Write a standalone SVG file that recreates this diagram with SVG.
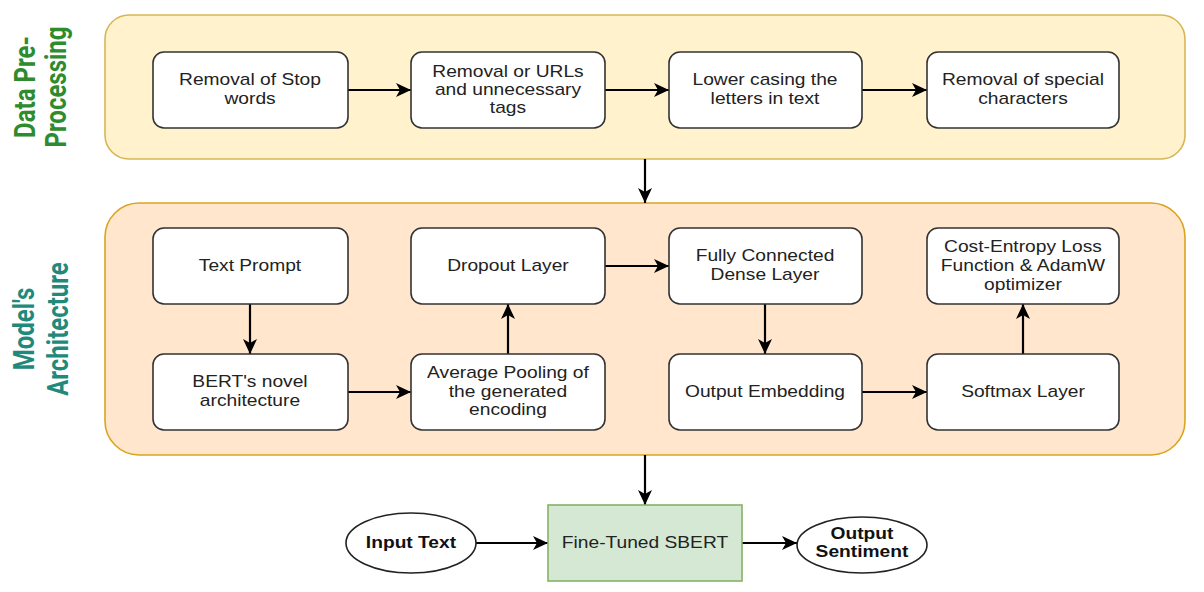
<svg xmlns="http://www.w3.org/2000/svg" width="1204" height="592" viewBox="0 0 1204 592">
<style>
.box{fill:#ffffff;stroke:#333333;stroke-width:1.6}
.t{font-family:"Liberation Sans",Arial,sans-serif;font-size:16px;fill:#222222;text-anchor:middle;transform-box:fill-box;transform-origin:center;transform:scaleX(1.2)}
.b{font-weight:bold;fill:#111111}
.title{font-family:Roboto,"Liberation Sans",sans-serif;font-size:24px;font-weight:bold;text-anchor:middle}
.conn{fill:none;stroke:#000000;stroke-width:2.2}
</style>
<defs>
<marker id="arr" markerUnits="userSpaceOnUse" viewBox="0 0 15 14" markerWidth="15" markerHeight="14" refX="15" refY="7" orient="auto">
<path d="M0,0 L15,7 L0,14 L4,7 Z" fill="#000000"/>
</marker>
</defs>
<rect width="1204" height="592" fill="#ffffff"/>
<g id="container-preprocessing">
<rect x="105" y="15" width="1080" height="144" rx="24" fill="#fff2cc" stroke="#d6b656" stroke-width="1.6"/>
<g transform="translate(35,87) scale(1.2,1) rotate(-90)">
<text class="title" fill="#2e8b2e" x="0" y="0">Data Pre-</text>
<text class="title" fill="#2e8b2e" x="0" y="26">Processing</text>
</g>
</g>
<g id="container-model">
<rect x="105" y="203" width="1080" height="252" rx="34" fill="#ffe6cc" stroke="#d9a520" stroke-width="1.6"/>
<g transform="translate(34,329) scale(1.2,1) rotate(-90)">
<text class="title" fill="#1f8a7c" x="0" y="0">Model's</text>
<text class="title" fill="#1f8a7c" x="0" y="28">Architecture</text>
</g>
</g>
<g id="connectors">
<line class="conn" x1="348" y1="90" x2="411" y2="90" marker-end="url(#arr)"/>
<line class="conn" x1="605" y1="90" x2="669" y2="90" marker-end="url(#arr)"/>
<line class="conn" x1="862" y1="90" x2="927" y2="90" marker-end="url(#arr)"/>
<line class="conn" x1="645" y1="159" x2="645" y2="203" marker-end="url(#arr)"/>
<line class="conn" x1="250" y1="304" x2="250" y2="354" marker-end="url(#arr)"/>
<line class="conn" x1="348" y1="392" x2="411" y2="392" marker-end="url(#arr)"/>
<line class="conn" x1="508" y1="354" x2="508" y2="304" marker-end="url(#arr)"/>
<line class="conn" x1="605" y1="266" x2="669" y2="266" marker-end="url(#arr)"/>
<line class="conn" x1="765" y1="304" x2="765" y2="354" marker-end="url(#arr)"/>
<line class="conn" x1="862" y1="392" x2="927" y2="392" marker-end="url(#arr)"/>
<line class="conn" x1="1023" y1="354" x2="1023" y2="304" marker-end="url(#arr)"/>
<line class="conn" x1="645" y1="455" x2="645" y2="505" marker-end="url(#arr)"/>
<line class="conn" x1="476" y1="543" x2="548" y2="543" marker-end="url(#arr)"/>
<line class="conn" x1="742" y1="543" x2="797" y2="543" marker-end="url(#arr)"/>
</g>
<g id="n-stopwords">
<rect class="box" x="153" y="52" width="195" height="76" rx="11"/>
<text class="t" x="250" y="85">Removal of Stop</text>
<text class="t" x="250" y="104">words</text>
</g>
<g id="n-urls">
<rect class="box" x="411" y="52" width="194" height="76" rx="11"/>
<text class="t" x="508" y="77">Removal or URLs</text>
<text class="t" x="508" y="95">and unnecessary</text>
<text class="t" x="508" y="113">tags</text>
</g>
<g id="n-lowercase">
<rect class="box" x="669" y="52" width="193" height="76" rx="11"/>
<text class="t" x="765" y="85">Lower casing the</text>
<text class="t" x="765" y="104">letters in text</text>
</g>
<g id="n-special">
<rect class="box" x="927" y="52" width="192" height="76" rx="11"/>
<text class="t" x="1023" y="85">Removal of special</text>
<text class="t" x="1023" y="104">characters</text>
</g>
<g id="n-textprompt">
<rect class="box" x="153" y="228" width="195" height="76" rx="11"/>
<text class="t" x="250" y="271">Text Prompt</text>
</g>
<g id="n-dropout">
<rect class="box" x="411" y="228" width="194" height="76" rx="11"/>
<text class="t" x="508" y="271">Dropout Layer</text>
</g>
<g id="n-dense">
<rect class="box" x="669" y="228" width="193" height="76" rx="11"/>
<text class="t" x="765" y="261">Fully Connected</text>
<text class="t" x="765" y="280">Dense Layer</text>
</g>
<g id="n-loss">
<rect class="box" x="927" y="228" width="192" height="76" rx="11"/>
<text class="t" x="1023" y="252">Cost-Entropy Loss</text>
<text class="t" x="1023" y="271">Function &amp; AdamW</text>
<text class="t" x="1023" y="290">optimizer</text>
</g>
<g id="n-bert">
<rect class="box" x="153" y="354" width="195" height="76" rx="11"/>
<text class="t" x="250" y="387">BERT's novel</text>
<text class="t" x="250" y="406">architecture</text>
</g>
<g id="n-pooling">
<rect class="box" x="411" y="354" width="194" height="76" rx="11"/>
<text class="t" x="508" y="378">Average Pooling of</text>
<text class="t" x="508" y="397">the generated</text>
<text class="t" x="508" y="415">encoding</text>
</g>
<g id="n-outembed">
<rect class="box" x="669" y="354" width="193" height="76" rx="11"/>
<text class="t" x="765" y="397">Output Embedding</text>
</g>
<g id="n-softmax">
<rect class="box" x="927" y="354" width="192" height="76" rx="11"/>
<text class="t" x="1023" y="397">Softmax Layer</text>
</g>
<g id="n-input">
<ellipse cx="411" cy="543" rx="65" ry="30" fill="#ffffff" stroke="#222222" stroke-width="1.6"/>
<text class="t b" x="411" y="548">Input Text</text>
</g>
<g id="n-sbert">
<rect x="548" y="505" width="194" height="76" fill="#d5e8d4" stroke="#82b366" stroke-width="1.6"/>
<text class="t" x="645" y="548">Fine-Tuned SBERT</text>
</g>
<g id="n-output">
<ellipse cx="862" cy="545" rx="65" ry="28" fill="#ffffff" stroke="#222222" stroke-width="1.6"/>
<text class="t b" x="862" y="539">Output</text>
<text class="t b" x="862" y="557">Sentiment</text>
</g>
</svg>
